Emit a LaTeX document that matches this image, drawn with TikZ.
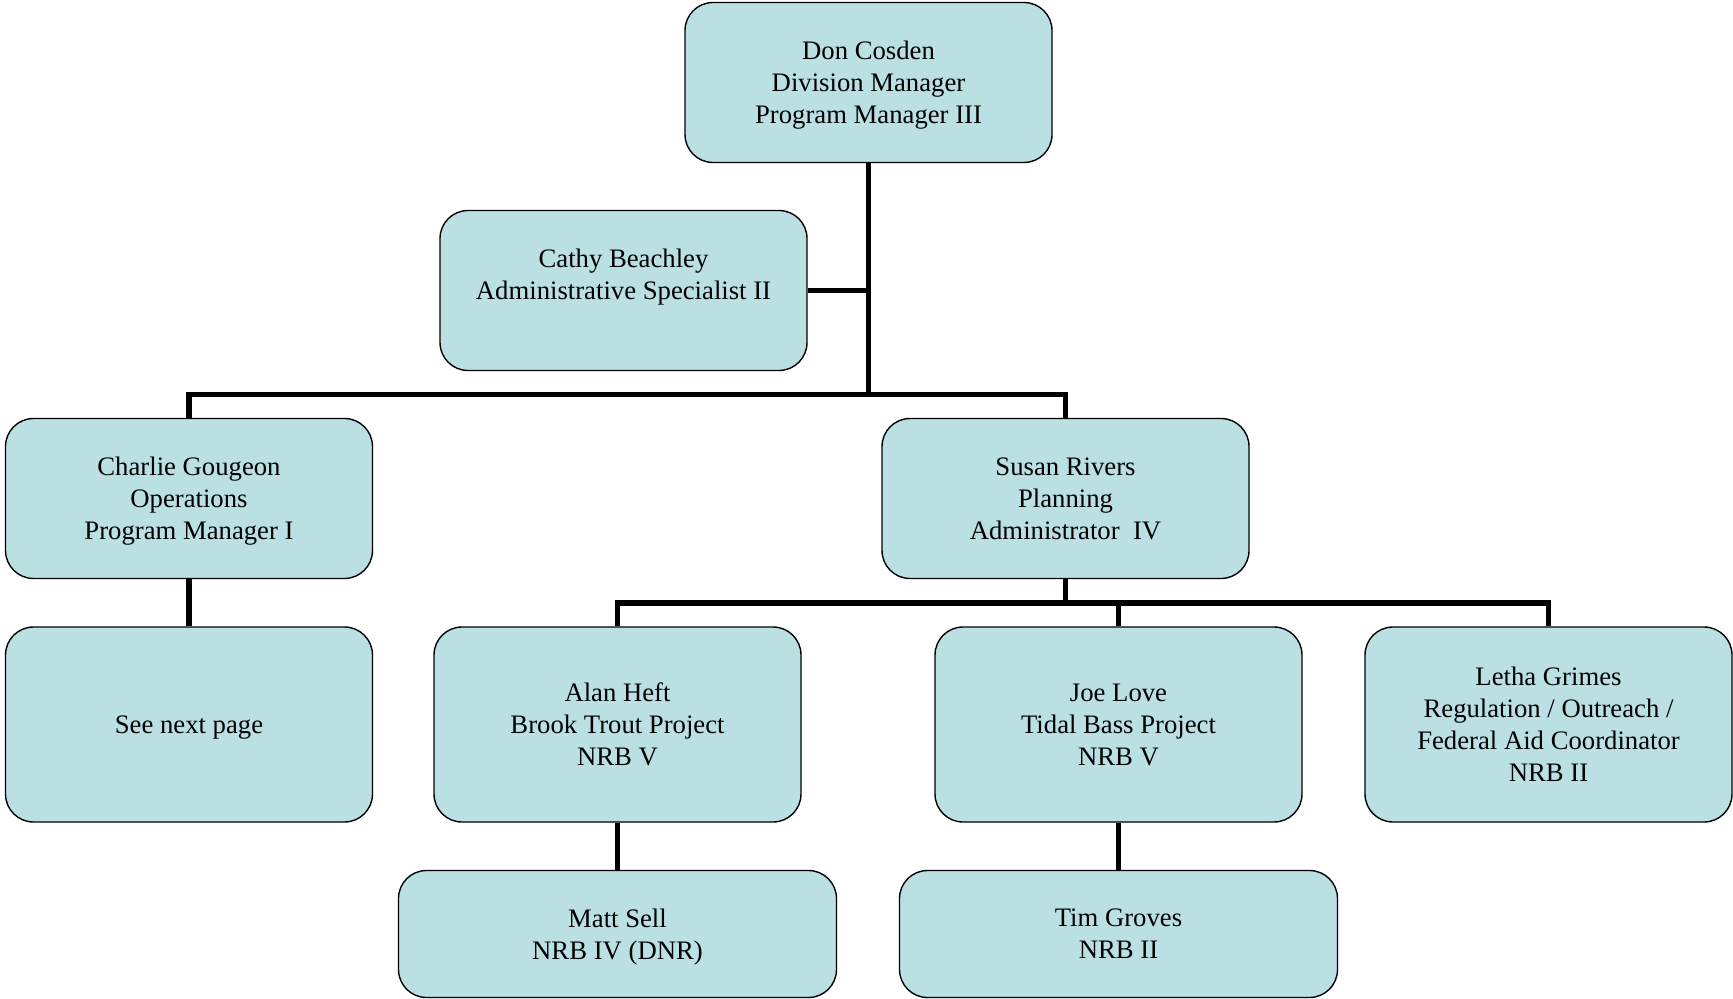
\documentclass[tikz,border=0pt]{standalone}
\usepackage{fontspec}
\setmainfont{Liberation Serif}
\usepackage{xcolor}
\usepackage{tikz}

\definecolor{boxblue}{RGB}{186,224,228}

\begin{document}
\begin{tikzpicture}[x=0.5pt,y=-0.5pt,
    post/.style={draw, line width=0.7pt, fill=boxblue, rounded corners=14pt,
        align=center, inner sep=2pt, minimum width=183.5pt, minimum height=80pt,
        text depth=-1.4pt, font=\fontsize{13.35}{16}\selectfont},
    tall/.style={minimum height=97.5pt},
    wide/.style={minimum width=219pt, minimum height=63.5pt},
    link/.style={line width=2.7pt}]
    \useasboundingbox (0,0) rectangle (1733,999);

    \node[post] (don) at (868.5,82.5) {Don Cosden\\Division Manager\\Program Manager III};
    \node[post] (cathy) at (623.5,290.5) {Cathy Beachley\\Administrative Specialist II\\~};

    \node[post] (charlie) at (189,498.5) {Charlie Gougeon\\Operations\\Program Manager I};
    \node[post] (susan) at (1065.5,498.5) {Susan Rivers\\Planning\\Administrator\ \ IV};

    \node[post, tall] (see) at (189,724.5) {See next page};
    \node[post, tall] (alan) at (617.5,724.5) {Alan Heft\\Brook Trout Project\\NRB V};
    \node[post, tall] (joe) at (1118.5,724.5) {Joe Love\\Tidal Bass Project\\NRB V};
    \node[post, tall] (letha) at (1548.5,724.5) {Letha Grimes\\Regulation / Outreach /\\Federal Aid Coordinator\\NRB II};

    \node[post, wide] (matt) at (617.5,934) {Matt Sell\\NRB IV (DNR)};
    \node[post, wide] (tim) at (1118.5,934) {Tim Groves\\NRB II};

    \coordinate (hub) at (don.south |- 0,394.5);
    \coordinate (hubB) at (susan.south |- 0,603);

    \draw[link] (don.south) -- (hub);
    \draw[link] (cathy.east) -- (cathy.east -| hub);
    \draw[link] (charlie.north) |- (hub) -| (susan.north);
    \draw[link] (charlie.south) -- (see.north);

    \draw[link] (susan.south) -- (hubB);
    \draw[link] (alan.north) |- (hubB) -| (letha.north);
    \draw[link] (joe.north) -- (joe.north |- hubB);
    \draw[link] (alan.south) -- (matt.north);
    \draw[link] (joe.south) -- (tim.north);
\end{tikzpicture}
\end{document}
